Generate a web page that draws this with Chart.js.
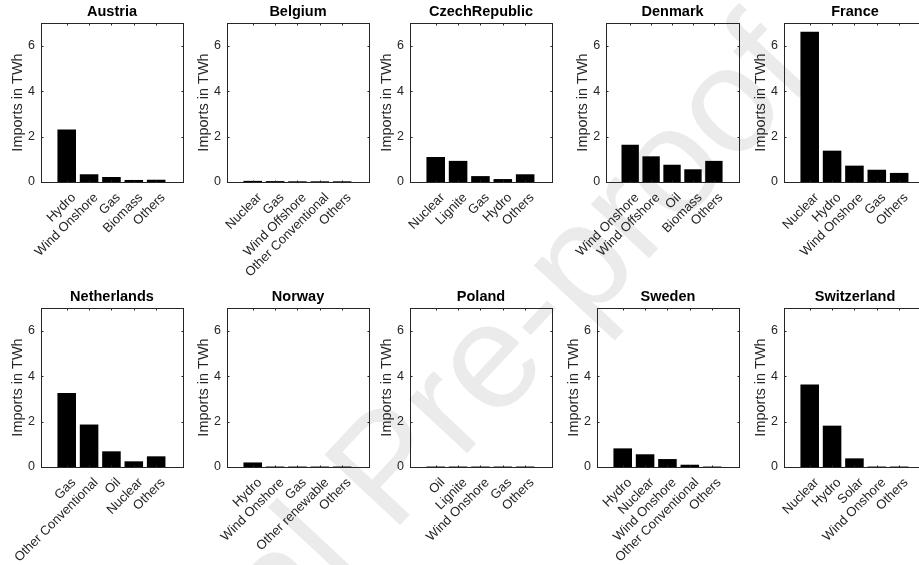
<!DOCTYPE html>
<html>
<head>
<meta charset="utf-8">
<script src="https://cdn.jsdelivr.net/npm/chart.js@4.4.1/dist/chart.umd.min.js"></script>
<style>
html, body { margin: 0; padding: 0; background: #fff; overflow: hidden; }
#wrap { position: relative; width: 919px; height: 565px; overflow: hidden; }
#mark {
  position: absolute; left: -215px; top: 390px; width: 1200px; height: 150px;
  font: 150px "Liberation Sans", Arial, sans-serif; line-height: 150px;
  color: #ebebeb; white-space: nowrap; text-align: center;
  transform: rotate(-47deg); transform-origin: 50% 50%;
}
canvas { position: absolute; }
</style>
</head>
<body>
<div id="wrap">
  <div id="mark">Journal Pre-proof</div>
</div>
<script>
// imports by source, TWh
const countries = ["Austria", "Belgium", "CzechRepublic", "Denmark", "France",
                   "Netherlands", "Norway", "Poland", "Sweden", "Switzerland"];

const sources = [
  ["Hydro", "Wind Onshore", "Gas", "Biomass", "Others"],
  ["Nuclear", "Gas", "Wind Offshore", "Other Conventional", "Others"],
  ["Nuclear", "Lignite", "Gas", "Hydro", "Others"],
  ["Wind Onshore", "Wind Offshore", "Oil", "Biomass", "Others"],
  ["Nuclear", "Hydro", "Wind Onshore", "Gas", "Others"],
  ["Gas", "Other Conventional", "Oil", "Nuclear", "Others"],
  ["Hydro", "Wind Onshore", "Gas", "Other renewable", "Others"],
  ["Oil", "Lignite", "Wind Onshore", "Gas", "Others"],
  ["Hydro", "Nuclear", "Wind Onshore", "Other Conventional", "Others"],
  ["Nuclear", "Hydro", "Solar", "Wind Onshore", "Others"]
];

const imports = [
  [2.31, 0.34, 0.22, 0.09, 0.10],
  [0.05, 0.04, 0.03, 0.03, 0.03],
  [1.10, 0.93, 0.26, 0.13, 0.34],
  [1.64, 1.13, 0.76, 0.56, 0.93],
  [6.62, 1.38, 0.72, 0.54, 0.40],
  [3.26, 1.87, 0.69, 0.25, 0.47],
  [0.20, 0.02, 0.02, 0.02, 0.02],
  [0.02, 0.02, 0.02, 0.02, 0.02],
  [0.82, 0.56, 0.35, 0.10, 0.02],
  [3.63, 1.82, 0.38, 0.02, 0.02]
];

const yTicks = [0, 2, 4, 6];
const yMax = 7;

// panel placement (axes box left edge per column, row tops)
const colLeft = [41, 227, 410, 597, 784];
const rowTop = [0, 285];
const axisColor = "#262626";
const fontName = '"Liberation Sans", Arial, sans-serif';

let frame = {
  id: "frame",
  afterDraw: function(chart, args, opts){
    let ctx = chart.ctx;
    let a = chart.chartArea;
    let x = chart.scales.x, y = chart.scales.y;
    let tl = 2;
    ctx.save();
    ctx.strokeStyle = axisColor;
    ctx.lineWidth = 1;
    let L = Math.round(a.left) + 0.5, R = Math.round(a.right) + 0.5;
    let T = Math.round(a.top) + 0.5, B = Math.round(a.bottom) + 0.5;
    ctx.beginPath();
    for(let t of x.ticks){
      let px = Math.round(x.getPixelForValue(t.value)) + 0.5;
      ctx.moveTo(px, B); ctx.lineTo(px, B - tl);
      ctx.moveTo(px, T); ctx.lineTo(px, T + tl);
    }
    for(let t of y.ticks){
      let py = Math.round(y.getPixelForValue(t.value)) + 0.5;
      ctx.moveTo(L, py); ctx.lineTo(L + tl, py);
      ctx.moveTo(R, py); ctx.lineTo(R - tl, py);
    }
    ctx.stroke();
    ctx.strokeRect(L, T, R - L, B - T);
    ctx.fillStyle = "#000";
    ctx.font = "bold 14.5px " + fontName;
    ctx.textAlign = "center";
    ctx.textBaseline = "middle";
    ctx.fillText(opts.title, (a.left + a.right) / 2, a.top - 11);
    ctx.restore();
  }
};

let renderPanel = function(i){
  let cats = sources[i];
  let vals = imports[i];
  let canvas = document.createElement("canvas");
  canvas.width = 186;
  canvas.height = 282;
  canvas.style.left = (colLeft[i % 5] - 41) + "px";
  canvas.style.top = rowTop[Math.floor(i / 5)] + "px";
  document.getElementById("wrap").appendChild(canvas);

  new Chart(canvas.getContext("2d"), {
    type: "bar",
    data: {
      datasets: [{
        data: vals.map((v, k) => ({x: k + 1, y: v})),
        backgroundColor: "#000",
        borderWidth: 0,
        categoryPercentage: 1,
        barPercentage: 0.83
      }]
    },
    options: {
      responsive: false,
      animation: false,
      devicePixelRatio: 1,
      layout: { padding: { top: 23, right: 3, left: 0, bottom: 0 } },
      plugins: {
        legend: { display: false },
        tooltip: { enabled: false },
        frame: { title: countries[i] }
      },
      scales: {
        x: {
          type: "linear",
          offset: false,
          min: -0.15,
          max: 6.2,
          grid: { display: false, drawTicks: false },
          border: { display: false },
          afterBuildTicks: function(scale){
            scale.ticks = cats.map((c, k) => ({value: k + 1}));
          },
          afterFit: function(scale){ scale.height = 100; },
          ticks: {
            autoSkip: false,
            minRotation: 45,
            maxRotation: 45,
            padding: 8,
            labelOffset: 7,
            color: axisColor,
            font: { family: fontName, size: 13 },
            callback: function(value, index){ return cats[index]; }
          }
        },
        y: {
          min: 0,
          max: yMax,
          grid: { display: false, drawTicks: false },
          border: { display: false },
          afterBuildTicks: function(scale){
            scale.ticks = yTicks.map(v => ({value: v}));
          },
          afterFit: function(scale){ scale.width = 41; },
          ticks: {
            padding: 6,
            color: axisColor,
            font: { family: fontName, size: 12.5 }
          },
          title: {
            display: true,
            text: "Imports in TWh",
            color: axisColor,
            font: { family: fontName, size: 14.5 },
            padding: { top: 9, bottom: 0 }
          }
        }
      }
    },
    plugins: [frame]
  });
};

for(let i = 0; i < countries.length; i++){
  renderPanel(i);
}
</script>
</body>
</html>
